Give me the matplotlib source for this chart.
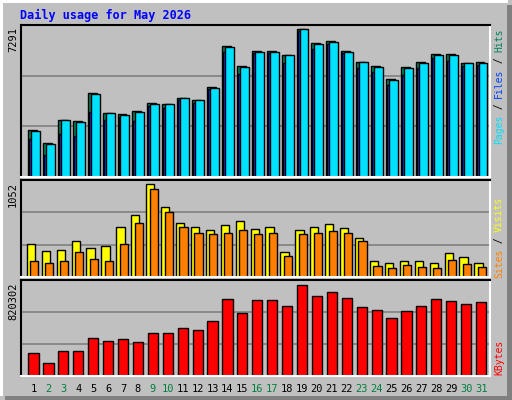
import matplotlib
matplotlib.use('Agg')
import matplotlib.pyplot as plt
import numpy as np

# data
days = list(range(1, 32))
weekend = [2, 3, 9, 10, 16, 17, 23, 24, 30, 31]
hits = [2317, 1676, 2810, 2761, 4141, 3155, 3106, 3254, 3648, 3599, 3895, 3796, 4437, 6458, 5472, 6212,
        6212, 6015, 7291, 6606, 6705, 6212, 5670, 5472, 4831, 5423, 5670, 6064, 6064, 5620, 5670]
pages = [2260, 1620, 2810, 2710, 4090, 3155, 3060, 3200, 3600, 3599, 3895, 3796, 4390, 6400, 5420, 6160,
         6160, 6015, 7291, 6550, 6650, 6160, 5670, 5420, 4780, 5370, 5620, 6010, 6010, 5620, 5620]
files = [1873, 1085, 2120, 2021, 3205, 2810, 2958, 2761, 3500, 3402, 3796, 3648, 4338, 6163, 5078, 6113,
         6113, 5620, 7198, 6310, 6557, 6113, 5374, 5177, 4536, 5029, 5374, 5867, 5719, 5472, 5522]
sites = [369, 300, 312, 403, 334, 357, 562, 699, 1052, 790, 608, 562, 528, 585, 631, 540,
         562, 289, 528, 562, 597, 551, 437, 186, 163, 186, 186, 163, 277, 232, 163]
visits = [186, 163, 186, 289, 209, 186, 380, 608, 995, 733, 562, 505, 483, 505, 528, 483,
          505, 243, 483, 505, 517, 505, 403, 129, 106, 141, 118, 106, 198, 152, 118]
kbytes = [209570, 119740, 227520, 227520, 344300, 317350, 335310, 308370, 389200, 389200, 434100,
          416150, 496970, 694590, 568840, 685600, 685600, 631700, 820302, 721520, 757450, 703560,
          622700, 595800, 523900, 586800, 631700, 694600, 676600, 649700, 667600]

BG = '#c0c0c0'
W, H = 512, 400
fig = plt.figure(figsize=(5.12, 4.0), dpi=100, facecolor=BG)
x = np.array(days)
mono = 'DejaVu Sans Mono'


def px_axes(x0, y0, x1, y1):
    ax = fig.add_axes([x0 / W, 1 - y1 / H, (x1 - x0) / W, (y1 - y0) / H])
    ax.set_facecolor(BG)
    ax.set_xlim(0.16, 31.6)
    ax.set_xticks([])
    ax.set_yticks([])
    for s in ['top', 'left']:
        ax.spines[s].set_color('black')
    for s in ['bottom', 'right']:
        ax.spines[s].set_color('white')
    for s in ax.spines.values():
        s.set_linewidth(1.5)
    return ax


def grid(ax, top):
    for f in (1 / 3, 2 / 3):
        ax.axhline(top * f, color='#808080', lw=1.2, zorder=0)


# top panel
ax1 = px_axes(21, 25, 490, 177)
top1 = 7291 * 152 / 148
ax1.set_ylim(0, top1)
grid(ax1, top1)
ax1.bar(x - 0.37, hits, 0.6, align='edge', color='#00805c', edgecolor='black', lw=1)
ax1.bar(x - 0.3, files, 0.6, align='edge', color='#0040ff', edgecolor='black', lw=1)
ax1.bar(x - 0.17, pages, 0.6, align='edge', color='#00e0ff', edgecolor='black', lw=1)

# middle panel
ax2 = px_axes(21, 180, 490, 277)
top2 = 1052 * 96.7 / 92.4
ax2.set_ylim(0, top2)
grid(ax2, top2)
ax2.bar(x - 0.45, sites, 0.55, align='edge', color='#ffff00', edgecolor='black', lw=1)
ax2.bar(x - 0.22, visits, 0.55, align='edge', color='#ff8000', edgecolor='black', lw=1)

# bottom panel
ax3 = px_axes(21, 280, 490, 376)
top3 = 820302 * 96 / 91.4
ax3.set_ylim(0, top3)
grid(ax3, top3)
ax3.bar(x, kbytes, 0.68, color='#ff0000', edgecolor='black', lw=1)

for d in days:
    fig.text((33.5 + (d - 1) * 14.92) / W, 1 - 389 / H, str(d), ha='center', va='center',
             fontsize=7.5, family=mono, color='#008040' if d in weekend else 'black')

fig.text(20 / W, 1 - 15 / H, 'Daily usage for May 2026', fontsize=8.5, family=mono,
         weight='bold', color='#0000ff', va='center')

for y, s in [(27, '7291'), (182, '1052'), (282, '820302')]:
    fig.text(13 / W, 1 - y / H, s, rotation=90, ha='center', va='top', fontsize=7.5, family=mono)


def side_label(y_top, parts):
    # rotated text pieces, read bottom-to-top, placed from the top down
    cw = 5.75
    y = y_top
    for s, c in reversed(parts):
        fig.text(499 / W, 1 - y / H, s, rotation=90, ha='center', va='top', fontsize=7,
                 family=mono, color=c)
        y += cw * len(s)


side_label(28, [('Pages', '#00e0ff'), (' / ', 'black'), ('Files', '#0040ff'), (' / ', 'black'),
                ('Hits', '#00805c')])
side_label(197, [('Sites', '#ff8000'), (' / ', 'black'), ('Visits', '#ffff00')])
side_label(340, [('KBytes', '#ff0000')])

# outer frame: white top/left, grey shadow right/bottom
fig.patches.append(plt.Rectangle((0, 1 - 3 / H), 508 / W, 3 / H, transform=fig.transFigure,
                                 color='white', lw=0))
fig.patches.append(plt.Rectangle((0, 4 / H), 3 / W, 396 / H, transform=fig.transFigure,
                                 color='white', lw=0))
fig.patches.append(plt.Rectangle((507 / W, 0), 5 / W, 395 / H, transform=fig.transFigure,
                                 color='#808080', lw=0))
fig.patches.append(plt.Rectangle((5 / W, 0), 507 / W, 4 / H, transform=fig.transFigure,
                                 color='#808080', lw=0))

fig.savefig('out.png', dpi=100, facecolor=BG)
